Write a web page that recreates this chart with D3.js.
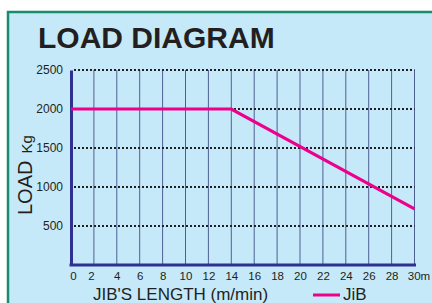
<!DOCTYPE html>
<html>
<head>
<meta charset="utf-8">
<script src="https://cdn.jsdelivr.net/npm/d3@7"></script>
<style>
  body { margin:0; background:#fff; }
  svg { display:block; font-family:"Liberation Sans", Arial, sans-serif; }
</style>
</head>
<body>
<svg id="chart" width="432" height="303"></svg>
<script>
// jib length (m) vs load (kg)
var jibLength = [0, 14, 30];
var jibLoad = [2000, 2000, 720];
var xTicks = [0,2,4,6,8,10,12,14,16,18,20,22,24,26,28,30];
var yTicks = [500,1000,1500,2000,2500];

var svg = d3.select("#chart");

// panel
svg.append("rect").attr("x",8).attr("y",12).attr("width",440).attr("height",310)
  .attr("fill","#c6e9f9").attr("stroke","#1a8c6e").attr("stroke-width",2.5);

svg.append("text").attr("x",38).attr("y",48).attr("font-size",30).attr("font-weight","bold")
  .attr("fill","#231f20").text("LOAD DIAGRAM");

var x = d3.scaleLinear().domain([0,30]).range([71,414.5]);
var y = d3.scaleLinear().domain([0,2500]).range([265,70]);

// vertical grid
svg.append("g").selectAll("line").data(xTicks.slice(1)).join("line")
  .attr("x1",d=>x(d)).attr("x2",d=>x(d)).attr("y1",y(2500)).attr("y2",y(0))
  .attr("stroke","#4e5f93").attr("stroke-width",1);

// horizontal dotted grid
svg.append("g").selectAll("line").data(yTicks).join("line")
  .attr("x1",x(0)+3).attr("x2",x(30)).attr("y1",d=>y(d)).attr("y2",d=>y(d))
  .attr("stroke","#231f20").attr("stroke-width",2).attr("stroke-dasharray","2,2");

// axes
var yAxis = d3.axisLeft(y).tickValues(yTicks).tickSize(0).tickPadding(8).tickFormat(d3.format("d"));
var gy = svg.append("g").attr("transform","translate("+x(0)+",0)").call(yAxis);
gy.select(".domain").attr("stroke","#2e3192").attr("stroke-width",3);
gy.selectAll("text").attr("font-size",12).attr("fill","#231f20").attr("font-family","Liberation Sans, Arial, sans-serif");

var xAxis = d3.axisBottom(x).tickValues(xTicks).tickSize(0).tickPadding(7)
  .tickFormat(d => d===30 ? "30m" : d);
var gx = svg.append("g").attr("transform","translate(0,"+y(0)+")").call(xAxis);
gx.select(".domain").attr("stroke","#2e3192").attr("stroke-width",3).attr("d","M"+(x(0)-1.5)+",0H"+(x(30)+1.5));
gx.selectAll("text").attr("font-size",11.5).attr("fill","#231f20").attr("font-family","Liberation Sans, Arial, sans-serif")
  .attr("dx",d => d===0 ? 2 : d===2 ? -3 : d===30 ? 4 : 0);

// load curve
var line = d3.line().x(d=>x(d[0])).y(d=>y(d[1]));
svg.append("path").datum(d3.zip(jibLength, jibLoad)).attr("d",line)
  .attr("fill","none").attr("stroke","#ec008c").attr("stroke-width",3.2);

// axis titles
var yt = svg.append("text").attr("transform","translate(32,215) rotate(-90)").attr("fill","#231f20");
yt.append("tspan").attr("font-size",20).text("LOAD");
yt.append("tspan").attr("font-size",15).attr("dx",7).text("Kg");

svg.append("text").attr("x",93).attr("y",300).attr("font-size",17).attr("fill","#231f20")
  .text("JIB'S LENGTH (m/min)");

svg.append("line").attr("x1",313).attr("x2",340).attr("y1",295).attr("y2",295)
  .attr("stroke","#ec008c").attr("stroke-width",3);
svg.append("text").attr("x",343).attr("y",300).attr("font-size",17).attr("fill","#231f20").text("JiB");
</script>
</body>
</html>
